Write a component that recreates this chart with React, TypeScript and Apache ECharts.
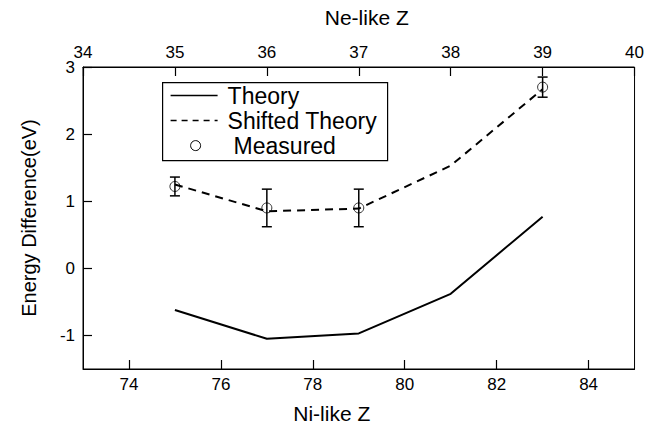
import React, { useEffect, useRef } from "react";
import * as echarts from "echarts";

const niZ = [75, 77, 79, 81, 83];
const theory = [-0.62, -1.05, -0.97, -0.38, 0.77];
const shiftedTheory = [1.25, 0.85, 0.89, 1.53, 2.67];
const measuredZ = [75, 77, 79, 83];
const measured = [1.22, 0.9, 0.9, 2.7];
const measuredErr = [0.14, 0.28, 0.28, 0.15];
const bottomTicks = [74, 76, 78, 80, 82, 84];
const yTicks = [-1, 0, 1, 2, 3];
const legendLabels = ["Theory", "Shifted Theory", "Measured"];

const FONT = "Liberation Sans, Arial, Helvetica, sans-serif";

export default function App() {
  const ref = useRef<HTMLDivElement>(null);
  useEffect(() => {
    if (!ref.current) return;
    const chart = echarts.init(ref.current, null, { renderer: "svg" });
    const errData = measuredZ.map((z, i) => [z, measured[i] - measuredErr[i], measured[i] + measuredErr[i]]);
    chart.setOption({
      animation: false,
      backgroundColor: "#fff",
      grid: { left: 83, right: 9, top: 67, bottom: 60, show: true, borderColor: "#000", borderWidth: 1 },
      xAxis: [
        {
          type: "value",
          position: "bottom",
          min: 73,
          max: 85,
          name: "Ni-like Z",
          nameLocation: "middle",
          nameGap: 34,
          nameTextStyle: { fontFamily: FONT, fontSize: 21, color: "#000", padding: [0, 54, 0, 0] },
          axisLine: { show: true, onZero: false, lineStyle: { color: "#000", width: 1 } },
          axisTick: { show: true, inside: true, length: 9, customValues: bottomTicks, lineStyle: { color: "#000", width: 1.2 } },
          axisLabel: { show: true, customValues: bottomTicks, margin: 7, fontFamily: FONT, fontSize: 17, color: "#000" },
          splitLine: { show: false },
        },
        {
          type: "value",
          position: "top",
          min: 34,
          max: 40,
          interval: 1,
          name: "Ne-like Z",
          nameLocation: "middle",
          nameGap: 39,
          nameTextStyle: { fontFamily: FONT, fontSize: 21, color: "#000", padding: [0, 0, 0, 16] },
          axisLine: { show: true, onZero: false, lineStyle: { color: "#000", width: 1 } },
          axisTick: { show: true, inside: true, length: 9, lineStyle: { color: "#000", width: 1.2 } },
          axisLabel: { show: true, margin: 6, fontFamily: FONT, fontSize: 17, color: "#000" },
          splitLine: { show: false },
        },
      ],
      yAxis: [
        {
          type: "value",
          min: -1.5,
          max: 3,
          name: "Energy Difference(eV)",
          nameLocation: "middle",
          nameGap: 44,
          nameTextStyle: { fontFamily: FONT, fontSize: 20, color: "#000" },
          axisLine: { show: true, onZero: false, lineStyle: { color: "#000", width: 1 } },
          axisTick: { show: true, inside: true, length: 9, customValues: yTicks, lineStyle: { color: "#000", width: 1.2 } },
          axisLabel: { show: true, customValues: yTicks, margin: 8, fontFamily: FONT, fontSize: 17, color: "#000" },
          splitLine: { show: false },
        },
      ],
      series: [
        {
          name: legendLabels[0],
          type: "line",
          xAxisIndex: 0,
          data: niZ.map((z, i) => [z, theory[i]]),
          symbol: "none",
          lineStyle: { color: "#000", width: 2 },
        },
        {
          name: legendLabels[1],
          type: "line",
          xAxisIndex: 0,
          data: niZ.map((z, i) => [z, shiftedTheory[i]]),
          symbol: "none",
          lineStyle: { color: "#000", width: 2, type: [8, 6] },
        },
        {
          name: "err",
          type: "custom",
          xAxisIndex: 0,
          data: errData,
          encode: { x: 0, y: [1, 2] },
          renderItem: (params: any, api: any) => {
            const x = api.value(0);
            const lo = api.coord([x, api.value(1)]);
            const hi = api.coord([x, api.value(2)]);
            const hw = 5;
            const style = { stroke: "#000", lineWidth: 1.5 };
            return {
              type: "group",
              children: [
                { type: "line", shape: { x1: lo[0], y1: lo[1], x2: hi[0], y2: hi[1] }, style },
                { type: "line", shape: { x1: lo[0] - hw, y1: lo[1], x2: lo[0] + hw, y2: lo[1] }, style },
                { type: "line", shape: { x1: hi[0] - hw, y1: hi[1], x2: hi[0] + hw, y2: hi[1] }, style },
              ],
            };
          },
        },
        {
          name: legendLabels[2],
          type: "scatter",
          xAxisIndex: 0,
          data: measuredZ.map((z, i) => [z, measured[i]]),
          symbol: "circle",
          symbolSize: 10,
          itemStyle: { color: "rgba(0,0,0,0)", borderColor: "#000", borderWidth: 1 },
        },
      ],
      graphic: [
        {
          type: "group",
          left: 162,
          top: 82,
          children: [
            { type: "rect", shape: { x: 0, y: 0, width: 225, height: 78 }, style: { fill: "#fff", stroke: "#000", lineWidth: 1.2 } },
            { type: "line", shape: { x1: 8, y1: 13, x2: 55, y2: 13 }, style: { stroke: "#000", lineWidth: 1.5 } },
            { type: "line", shape: { x1: 8, y1: 38, x2: 55, y2: 38 }, style: { stroke: "#000", lineWidth: 1.5, lineDash: [6, 5] } },
            { type: "circle", shape: { cx: 33, cy: 63, r: 5 }, style: { fill: "none", stroke: "#000", lineWidth: 1 } },
            { type: "text", x: 65, y: 13, style: { text: legendLabels[0], font: `23px ${FONT}`, fill: "#000", verticalAlign: "middle" } },
            { type: "text", x: 65, y: 38, style: { text: legendLabels[1], font: `23px ${FONT}`, fill: "#000", verticalAlign: "middle" } },
            { type: "text", x: 71, y: 63, style: { text: legendLabels[2], font: `23px ${FONT}`, fill: "#000", verticalAlign: "middle" } },
          ],
        },
      ],
    });
    return () => chart.dispose();
  }, []);
  return <div ref={ref} style={{ width: 647, height: 429, position: "absolute", left: 0, top: 0 }} />;
}
